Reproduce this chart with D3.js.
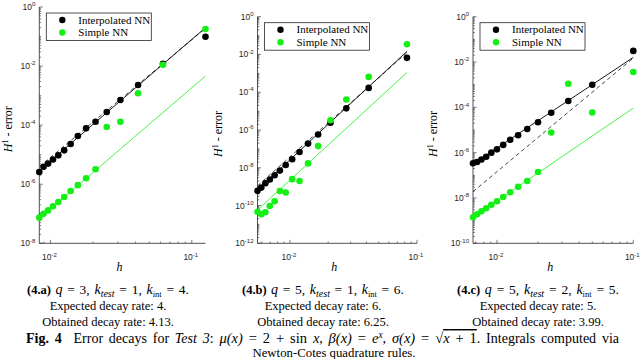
<!DOCTYPE html>
<html>
<head>
<meta charset="utf-8">
<style>
  body { margin: 0; background: #fff; }
  svg { display: block; }
  .tick-label { font-family: "Liberation Sans", Arial, sans-serif; font-size: 8.5px; fill: #262626; }
  .axis-line { stroke: #262626; stroke-width: 0.8px; fill: none; }
  .tick { stroke: #262626; stroke-width: 0.6px; }
  .serif { font-family: "Liberation Serif", "Times New Roman", "DejaVu Serif", serif; fill: #000; }
  .fit { fill: none; }
  .legend-box { fill: #fff; stroke: #262626; stroke-width: 0.8px; }
</style>
</head>
<body>
<svg id="chart" width="640" height="359"></svg>
<script src="https://d3js.org/d3.v7.min.js"></script>
<script>
  // ---- data: panel (4.a) ----
  var hA = [1/120, 1/112, 1/104, 1/96, 1/88, 1/80, 1/72, 1/64, 1/56, 1/48, 1/40, 1/32, 1/24, 1/16, 1/8];
  var interpA = [2.6e-6, 3.9e-6, 5.0e-6, 6.9e-6, 9.5e-6, 1.4e-5, 2.3e-5, 4.3e-5, 7.8e-5, 1.3e-4, 2.8e-4, 7.1e-4, 2.3e-3, 1.2e-2, 9.8e-2];
  var simpleA = [7.4e-8, 1.0e-7, 1.3e-7, 1.8e-7, 2.5e-7, 3.7e-7, 5.9e-7, 9.3e-7, 1.6e-6, 3.2e-6, 8.7e-5, 1.3e-4, 1.2e-3, 1.1e-2, 1.8e-1];
  var fitInterpA = [2.9e-6, 2.0e-1];
  var fitRateA = [3.9e-6, 1.9e-1];
  var fitSimpleA = [6.9e-8, 4.6e-3];

  // ---- data: panel (4.b) ----
  var hB = [1/180, 1/168, 1/156, 1/144, 1/132, 1/120, 1/108, 1/96, 1/84, 1/72, 1/60, 1/48, 1/36, 1/24, 1/12];
  var interpB = [6.0e-10, 8.9e-10, 1.5e-9, 2.4e-9, 4.0e-9, 7.1e-9, 1.4e-8, 2.8e-8, 6.8e-8, 1.9e-7, 5.8e-7, 2.4e-6, 1.4e-5, 1.7e-4, 6.6e-3];
  var simpleB = [4.7e-11, 3.5e-11, 4.4e-11, 9.5e-11, 1.7e-10, 5.9e-10, 4.9e-10, 2.5e-9, 2.0e-9, 1.7e-8, 1.4e-7, 3.3e-6, 4.1e-5, 6.5e-4, 3.5e-2];
  var fitInterpB = [6.8e-10, 1.45e-2];
  var fitRateB = [1.1e-9, 1.26e-2];
  var fitSimpleB = [5.8e-11, 1.1e-3];

  // ---- data: panel (4.c) ----
  var hC = [1/150, 1/140, 1/130, 1/120, 1/110, 1/100, 1/90, 1/80, 1/70, 1/60, 1/50, 1/40, 1/30, 1/20, 1/10];
  var interpC = [3.4e-7, 3.9e-7, 5.0e-7, 6.6e-7, 1.0e-6, 1.4e-6, 2.2e-6, 3.7e-6, 5.9e-6, 1.1e-5, 2.2e-5, 5.8e-5, 1.9e-4, 1.0e-3, 3.1e-2];
  var simpleC = [1.4e-9, 1.9e-9, 2.6e-9, 3.5e-9, 5.0e-9, 7.2e-9, 1.1e-8, 1.8e-8, 3.1e-8, 5.6e-8, 1.4e-7, 7.8e-6, 1.1e-3, 5.9e-5, 3.6e-3];
  var fitInterpC = [3.2e-7, 1.6e-2];
  var fitRateC = [1.9e-8, 1.5e-2];
  var fitSimpleC = [1.4e-9, 9.3e-5];

  // ---- axis limits and labelled ticks ----
  var xLimA = [1/120, 1/8], xLimB = [1/180, 1e-1], xLimC = [1/150, 1e-1];
  var yTickExpA = [0, -2, -4, -6, -8];
  var yTickExpB = [0, -2, -4, -6, -8, -10, -12];
  var yTickExpC = [0, -2, -4, -6, -8, -10];
  var xTickExp = [-2, -1];
  var seriesNames = ["Interpolated NN", "Simple NN"];

  // ---- caption texts ----
  var panelTags = ["(4.a)", "(4.b)", "(4.c)"];
  var qValues = [3, 5, 5];
  var kTest = [1, 1, 2];
  var kInt = [4, 6, 5];
  var expectedRates = ["4", "6", "5"];
  var obtainedRates = ["4.13", "6.25", "3.99"];

  var colBlack = "#000";
  var colGreen = "#14f014";

  var svg = d3.select("#chart");

  var panels = [
    { h: hA, interp: interpA, simple: simpleA, fi: fitInterpA, fr: fitRateA, fs: fitSimpleA,
      xLim: xLimA, yExp: yTickExpA, left: 39.3, right: 205.5, top: 7, bottom: 243.3, ylabX: 12, cx: 108 },
    { h: hB, interp: interpB, simple: simpleB, fi: fitInterpB, fr: fitRateB, fs: fitSimpleB,
      xLim: xLimB, yExp: yTickExpB, left: 257.5, right: 417, top: 16.7, bottom: 243.3, ylabX: 222, cx: 323 },
    { h: hC, interp: interpC, simple: simpleC, fi: fitInterpC, fr: fitRateC, fs: fitSimpleC,
      xLim: xLimC, yExp: yTickExpC, left: 473, right: 633.3, top: 16.7, bottom: 243.3, ylabX: 437, cx: 538 }
  ];

  function addPow(sel, exp) {
    sel.append("tspan").text("10");
    sel.append("tspan").attr("dy", -3.8).attr("font-size", "6px").text(exp);
  }

  // stretch the spaces of a text so it spans the given width (justified look)
  function fitWidth(t, target) {
    var w = t.node().getComputedTextLength();
    var n = (t.text().match(/ /g) || []).length;
    if (n > 0 && target > w) t.style("word-spacing", ((target - w) / n) + "px");
  }

  panels.forEach(function(p, i) {
    var x = d3.scaleLog().domain(p.xLim).range([p.left, p.right]);
    var yMin = Math.pow(10, d3.min(p.yExp));
    var y = d3.scaleLog().domain([yMin, 1]).range([p.bottom, p.top]);
    var g = svg.append("g");

    // minor and major ticks on y
    var yt = [];
    for (var e = d3.min(p.yExp); e <= 0; e++) {
      for (var m = 1; m <= 9; m++) {
        var v = m * Math.pow(10, e);
        if (v <= 1 + 1e-12) yt.push({ v: v, major: m === 1 && p.yExp.indexOf(e) >= 0 });
      }
    }
    g.selectAll(".ytick").data(yt).enter().append("line")
      .attr("class", "tick")
      .attr("x1", p.left).attr("x2", function(d) { return p.left + (d.major ? 3.5 : 1.8); })
      .attr("y1", function(d) { return y(d.v); }).attr("y2", function(d) { return y(d.v); });

    // ticks on x
    var xt = [];
    for (var ex = -3; ex <= -1; ex++) {
      for (var mm = 1; mm <= 9; mm++) {
        var xv = mm * Math.pow(10, ex);
        if (xv >= p.xLim[0] - 1e-12 && xv <= p.xLim[1] + 1e-12) xt.push({ v: xv, major: mm === 1 });
      }
    }
    g.selectAll(".xtick").data(xt).enter().append("line")
      .attr("class", "tick")
      .attr("y1", p.bottom).attr("y2", function(d) { return p.bottom - (d.major ? 3.5 : 1.8); })
      .attr("x1", function(d) { return x(d.v); }).attr("x2", function(d) { return x(d.v); });

    // axis lines
    g.append("line").attr("class", "axis-line")
      .attr("x1", p.left).attr("x2", p.left).attr("y1", p.top).attr("y2", p.bottom);
    g.append("line").attr("class", "axis-line")
      .attr("x1", p.left).attr("x2", p.right).attr("y1", p.bottom).attr("y2", p.bottom);

    // tick labels
    p.yExp.forEach(function(e) {
      var t = g.append("text").attr("class", "tick-label")
        .attr("text-anchor", "end")
        .attr("x", p.left - 4).attr("y", y(Math.pow(10, e)) + 3);
      addPow(t, String(e));
    });
    xTickExp.forEach(function(e) {
      var t = g.append("text").attr("class", "tick-label")
        .attr("text-anchor", "middle")
        .attr("x", x(Math.pow(10, e)) - 1).attr("y", p.bottom + 17);
      addPow(t, String(e));
    });

    // fitted lines
    var ends = [p.h[0], p.h[p.h.length - 1]];
    var line = d3.line().x(function(d) { return x(d[0]); }).y(function(d) { return y(d[1]); });
    g.append("path").attr("class", "fit").attr("stroke", colGreen).attr("stroke-width", 0.8)
      .attr("d", line(d3.zip(ends, p.fs)));
    g.append("path").attr("class", "fit").attr("stroke", "#333").attr("stroke-width", 0.9)
      .attr("stroke-dasharray", "4,3")
      .attr("d", line(d3.zip(ends, p.fr)));
    g.append("path").attr("class", "fit").attr("stroke", colBlack).attr("stroke-width", 0.9)
      .attr("d", line(d3.zip(ends, p.fi)));

    // markers
    g.selectAll(".pi").data(d3.zip(p.h, p.interp)).enter().append("circle")
      .attr("cx", function(d) { return x(d[0]); }).attr("cy", function(d) { return y(d[1]); })
      .attr("r", 3.3).attr("fill", colBlack);
    g.selectAll(".ps").data(d3.zip(p.h, p.simple)).enter().append("circle")
      .attr("cx", function(d) { return x(d[0]); }).attr("cy", function(d) { return y(d[1]); })
      .attr("r", 3.3).attr("fill", colGreen);

    // legend
    var lx = p.left + 7, ly = p.top + 6;
    var lg = g.append("g").attr("transform", "translate(" + lx + "," + ly + ")");
    lg.append("rect").attr("class", "legend-box").attr("width", 105).attr("height", 27.5);
    seriesNames.forEach(function(name, k) {
      lg.append("circle").attr("cx", 16).attr("cy", 7 + k * 12.5).attr("r", 3.2)
        .attr("fill", k === 0 ? colBlack : colGreen);
      lg.append("text").attr("class", "serif").attr("x", 32).attr("y", 10.8 + k * 12.5)
        .attr("font-size", "11px").text(name);
    });

    // axis titles
    var yl = g.append("text").attr("class", "serif").attr("font-size", "12px")
      .attr("text-anchor", "middle")
      .attr("transform", "translate(" + p.ylabX + "," + ((p.top + p.bottom) / 2 + 4) + ") rotate(-90)");
    yl.append("tspan").attr("font-style", "italic").text("H");
    yl.append("tspan").attr("dy", -4.5).attr("font-size", "8px").text("1");
    yl.append("tspan").attr("dy", 4.5).text(" - error");

    g.append("text").attr("class", "serif").attr("font-size", "12px").attr("font-style", "italic")
      .attr("text-anchor", "middle").attr("x", (p.left + p.right) / 2 - 3).attr("y", 271).text("h");

    // caption lines
    var c1 = g.append("text").attr("class", "serif").attr("font-size", "12.5px")
      .attr("text-anchor", "middle").attr("x", p.cx).attr("y", 294);
    c1.append("tspan").attr("font-weight", "bold").text(panelTags[i]);
    c1.append("tspan").text(" ");
    c1.append("tspan").attr("font-style", "italic").attr("font-size", "14px").text("q");
    c1.append("tspan").attr("font-size", "13.5px").text(" = " + qValues[i] + ", ");
    c1.append("tspan").attr("font-style", "italic").attr("font-size", "14px").text("k");
    c1.append("tspan").attr("font-style", "italic").attr("font-size", "10px").attr("dy", 2.5).text("test");
    c1.append("tspan").attr("font-size", "13.5px").attr("dy", -2.5).text(" = " + kTest[i] + ", ");
    c1.append("tspan").attr("font-style", "italic").attr("font-size", "14px").text("k");
    c1.append("tspan").attr("font-size", "8.5px").attr("dy", 2.5).text("int");
    c1.append("tspan").attr("font-size", "13.5px").attr("dy", -2.5).text(" = " + kInt[i] + ".");
    fitWidth(c1, 162);

    g.append("text").attr("class", "serif").attr("font-size", "12.5px")
      .attr("text-anchor", "middle").attr("x", p.cx).attr("y", 310)
      .text("Expected decay rate: " + expectedRates[i] + ".");
    g.append("text").attr("class", "serif").attr("font-size", "12.5px")
      .attr("text-anchor", "middle").attr("x", p.cx).attr("y", 326)
      .text("Obtained decay rate: " + obtainedRates[i] + ".");
  });

  // figure caption (justified first line)
  var fc = svg.append("text").attr("class", "serif").attr("font-size", "14px")
    .attr("x", 26).attr("y", 343);
  fc.append("tspan").attr("font-weight", "bold").text("Fig. 4");
  fc.append("tspan").attr("dx", 6).text(" Error decays for ");
  fc.append("tspan").attr("font-style", "italic").text("Test 3");
  fc.append("tspan").text(": ");
  fc.append("tspan").attr("font-style", "italic").attr("font-size", "14.5px").text("\u03bc(x)");
  fc.append("tspan").attr("font-size", "14.5px").text(" = 2 + sin ");
  fc.append("tspan").attr("font-style", "italic").attr("font-size", "14.5px").text("x");
  fc.append("tspan").text(", ");
  fc.append("tspan").attr("font-style", "italic").attr("font-size", "14.5px").text("\u03b2(x)");
  fc.append("tspan").attr("font-size", "14.5px").text(" = ");
  fc.append("tspan").attr("font-style", "italic").attr("font-size", "14.5px").text("e");
  fc.append("tspan").attr("font-style", "italic").attr("font-size", "9.5px").attr("dy", -5).text("x");
  fc.append("tspan").attr("dy", 5).text(", ");
  fc.append("tspan").attr("font-style", "italic").attr("font-size", "14.5px").text("\u03c3(x)");
  fc.append("tspan").attr("font-size", "14.5px").text(" = \u221a");
  fc.append("tspan").attr("font-style", "italic").attr("font-size", "14.5px")
    .attr("text-decoration", "overline").text("x");
  fc.append("tspan").attr("font-size", "14.5px").attr("text-decoration", "overline").text(" + 1");
  fc.append("tspan").text(". Integrals computed via");
  fitWidth(fc, 587);

  svg.append("text").attr("class", "serif").attr("font-size", "12.8px")
    .attr("text-anchor", "middle").attr("x", 334).attr("y", 357)
    .text("Newton-Cotes quadrature rules.");
</script>
</body>
</html>
